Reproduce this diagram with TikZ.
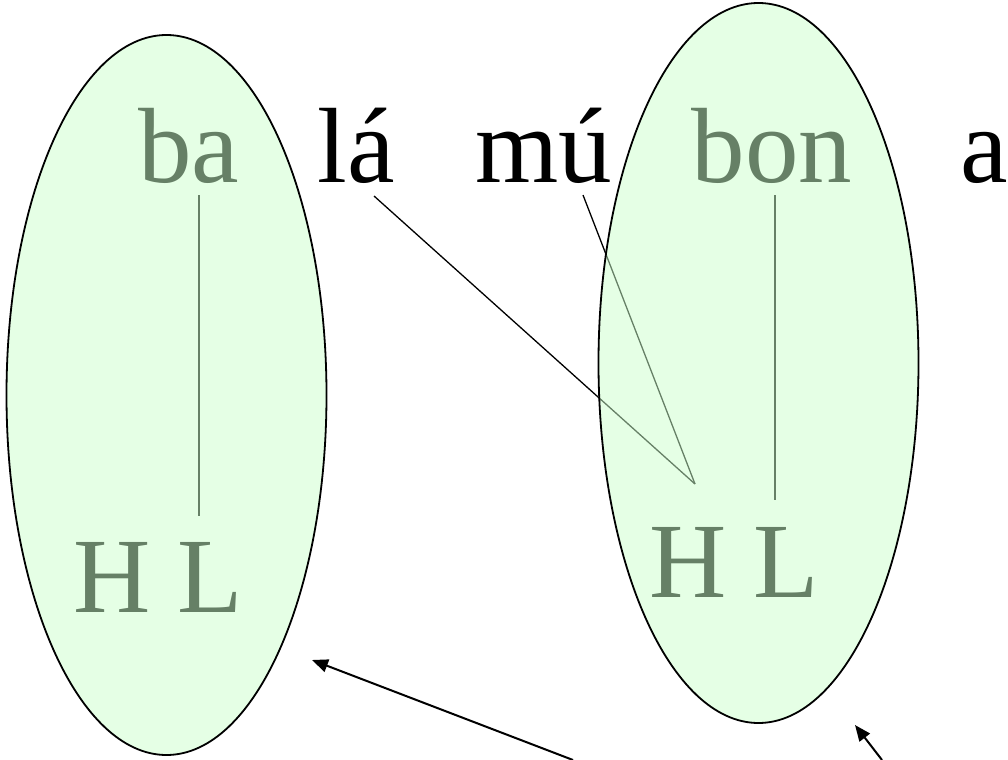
\documentclass[tikz,border=0pt]{standalone}
\usepackage{fontspec}
\setmainfont{Liberation Serif}
\usepackage{tikz}
\usetikzlibrary{arrows.meta,shapes.geometric}
\tikzset{word/.style={inner sep=0pt,anchor=base,font=\fontsize{53.5}{60}\selectfont}}
\tikzset{syllable/.style={draw,ellipse,line width=0.9pt,fill={rgb,255:red,204;green,255;blue,204},fill opacity=0.5,inner sep=0pt,minimum width=160pt,minimum height=360pt}}
\tikzset{assoc/.style={line width=0.65pt}}
\tikzset{pointer/.style={-{Triangle[length=8pt,width=6.5pt]},line width=1pt}}

\begin{document}
\begin{tikzpicture}[x=0.5pt,y=-0.5pt]
    \useasboundingbox (0,0) rectangle (1008,760);
    % the words
    \node[word] (ba) at (188.5,182) {ba};
    \node[word] (la) at (356.5,182) {lá};
    \node[word] (mu) at (544,182) {mú};
    \node[word] (bon) at (772,182) {bon};
    \node[word] (a) at (984,182) {a};
    % the tones
    \node[word] (tones1) at (158.5,612) {H L};
    \node[word] (tones2) at (734.5,597) {H L};
    % association lines
    \coordinate (ba-foot) at (199,195);
    \coordinate (la-foot) at (374,196);
    \coordinate (mu-foot) at (583,195);
    \coordinate (bon-foot) at (775,195);
    \coordinate (H1-top) at (199,516);
    \coordinate (H2-top) at (695,484);
    \coordinate (L2-top) at (775,500);
    \draw[assoc] (ba-foot) -- (H1-top);
    \draw[assoc] (la-foot) -- (H2-top);
    \draw[assoc] (mu-foot) -- (H2-top);
    \draw[assoc] (bon-foot) -- (L2-top);
    % the two syllables
    \node[syllable] (syl1) at (166.5,395) {};
    \node[syllable] (syl2) at (758.5,363) {};
    % pointers
    \coordinate (foot1) at (573,760);
    \coordinate (tip1) at (312,660);
    \coordinate (foot2) at (882,760);
    \coordinate (tip2) at (855,725);
    \draw[pointer] (foot1) -- (tip1);
    \draw[pointer] (foot2) -- (tip2);
\end{tikzpicture}
\end{document}
